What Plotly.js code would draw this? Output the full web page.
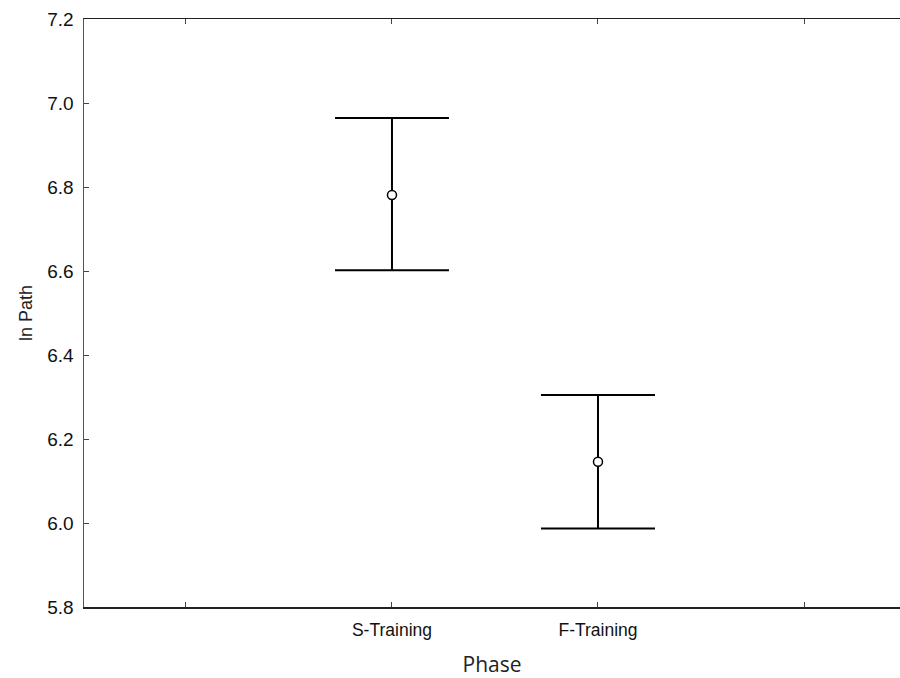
<!DOCTYPE html>
<html>
<head>
<meta charset="utf-8">
<script src="https://cdn.plot.ly/plotly-3.0.1.min.js"></script>
<style>html,body{margin:0;padding:0;background:#fff;}#chart{width:900px;height:678px;}</style>
</head>
<body>
<div id="chart"></div>
<script>
const categories = ["S-Training", "F-Training"];
const catPositions = [1, 2];
const means = [6.781, 6.146];
const upper = [6.964, 6.305];
const lower = [6.602, 5.987];
const tickPositions = [0, 1, 2, 3];
const tickLabels = ["", "S-Training", "F-Training", ""];

const plus = means.map((m, i) => upper[i] - m);
const minus = means.map((m, i) => m - lower[i]);

const trace = {
  x: catPositions,
  y: means,
  type: "scatter",
  mode: "markers",
  marker: {symbol: "circle", size: 9, color: "#ffffff", line: {color: "#000000", width: 1.5}},
  error_y: {type: "data", symmetric: false, array: plus, arrayminus: minus, color: "#000000", thickness: 2, width: 57},
  hoverinfo: "none",
  text: categories
};

const layout = {
  width: 900, height: 678,
  margin: {l: 84, r: 0, t: 19, b: 71},
  paper_bgcolor: "#ffffff", plot_bgcolor: "#ffffff",
  showlegend: false,
  font: {family: "Liberation Sans, Arial, sans-serif", color: "#000000"},
  xaxis: {
    range: [-0.495, 3.466],
    tickmode: "array", tickvals: tickPositions, ticktext: tickLabels,
    ticks: "inside", ticklen: 5, tickcolor: "#444", tickwidth: 1,
    showline: true, linecolor: "#222222", linewidth: 1.5, mirror: "ticks",
    showgrid: false, zeroline: false,
    ticklabelstandoff: 6,
    tickfont: {size: 17.5, family: "Liberation Sans, Arial, sans-serif", color: "#111"},
    title: {text: "Phase", font: {size: 21, family: "Open Sans, Noto Sans, sans-serif", color: "#222"}, standoff: 19}
  },
  yaxis: {
    range: [5.8, 7.2],
    tickmode: "array", tickvals: [5.8, 6.0, 6.2, 6.4, 6.6, 6.8, 7.0, 7.2],
    ticktext: ["5.8", "6.0", "6.2", "6.4", "6.6", "6.8", "7.0", "7.2"],
    ticks: "inside", ticklen: 5, tickcolor: "#444", tickwidth: 1,
    showline: true, linecolor: "#555555", linewidth: 1.5,
    showgrid: false, zeroline: false,
    ticklabelstandoff: 5,
    tickfont: {size: 19, family: "Liberation Sans, Arial, sans-serif", color: "#111"},
    title: {text: "ln Path", font: {size: 18, family: "Liberation Sans, Arial, sans-serif", color: "#222"}, standoff: 10}
  }
};

Plotly.newPlot("chart", [trace], layout, {displayModeBar: false, staticPlot: true});
</script>
</body>
</html>
